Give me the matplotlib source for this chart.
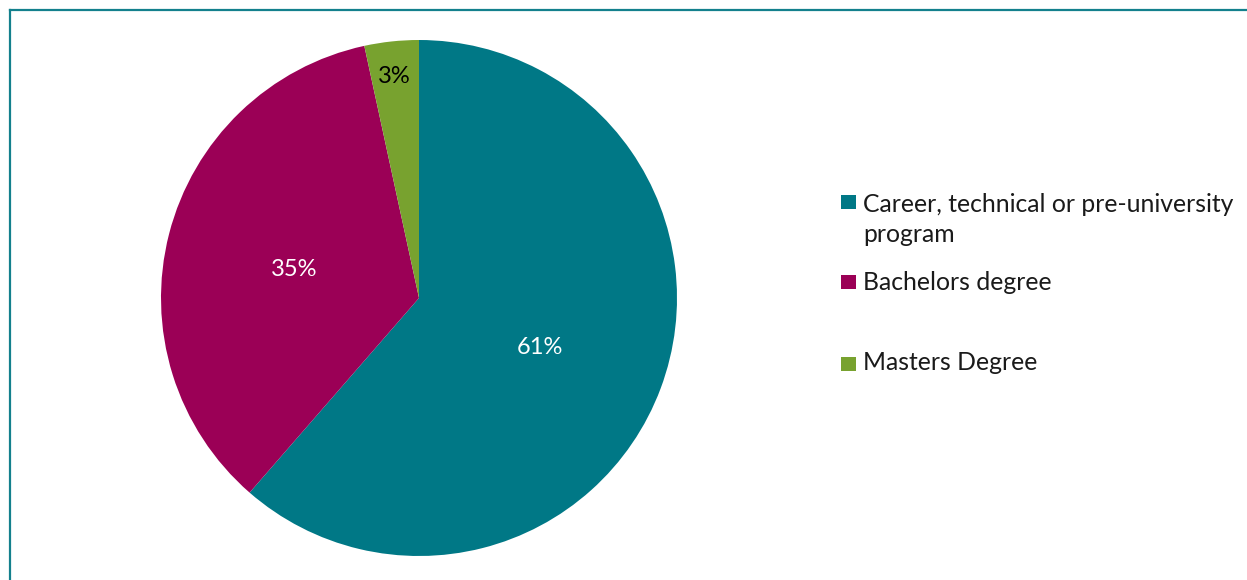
import matplotlib
matplotlib.use("Agg")
import matplotlib.pyplot as plt
from matplotlib.patches import Rectangle
from matplotlib.lines import Line2D
from matplotlib.transforms import offset_copy
import numpy as np

categories = ["Career, technical or pre-university\nprogram", "Bachelors degree", "Masters Degree"]
values = [61.4, 35.2, 3.4]
pct_labels = ["61%", "35%", "3%"]
colors = ["#007886", "#9B0056", "#78A22F"]
label_colors = ["white", "white", "black"]

W, H = 1247, 580
fig = plt.figure(figsize=(W / 100, H / 100), dpi=100)
FONT = "Lato"

# border (left and top only visible)
border = "#13808D"
fig.add_artist(Line2D([10 / W, 10 / W], [0, 1 - 10 / H], transform=fig.transFigure, color=border, lw=1.6))
fig.add_artist(Line2D([10 / W, 1], [1 - 10 / H, 1 - 10 / H], transform=fig.transFigure, color=border, lw=1.6))

cx, cy, R = 419, 298, 258
ax = fig.add_axes([(cx - R) / W, (H - cy - R) / H, 2 * R / W, 2 * R / H])
wedges, _ = ax.pie(values, colors=colors, startangle=90, counterclock=False,
                   wedgeprops=dict(linewidth=0))
ax.set_xlim(-1, 1)
ax.set_ylim(-1, 1)
ax.set_aspect("equal")
ax.axis("off")

dists = [0.5, 0.5, 0.88]
tr = offset_copy(ax.transData, fig=fig, x=0, y=-4, units="dots")
for w, lab, col, d in zip(wedges, pct_labels, label_colors, dists):
    ang = np.deg2rad((w.theta1 + w.theta2) / 2)
    ax.text(d * np.cos(ang), d * np.sin(ang), lab, ha="center", va="center",
            color=col, fontsize=17, family=FONT, transform=tr)

# legend
tx = 863
top_baselines = [212, 290, 370]
sq_tops = [195, 275, 357]
for cat, col, bl, st in zip(categories, colors, top_baselines, sq_tops):
    lines = cat.split("\n")
    for i, line in enumerate(lines):
        fig.text(tx / W, 1 - (bl + 30 * i) / H, line, ha="left", va="baseline",
                 fontsize=17.8, family=FONT, color="#1a1a1a")
    fig.add_artist(Rectangle((841 / W, 1 - (st + 14) / H), 15 / W, 14 / H,
                             transform=fig.transFigure, facecolor=col, edgecolor="none"))

fig.savefig("out.png", dpi=100)
